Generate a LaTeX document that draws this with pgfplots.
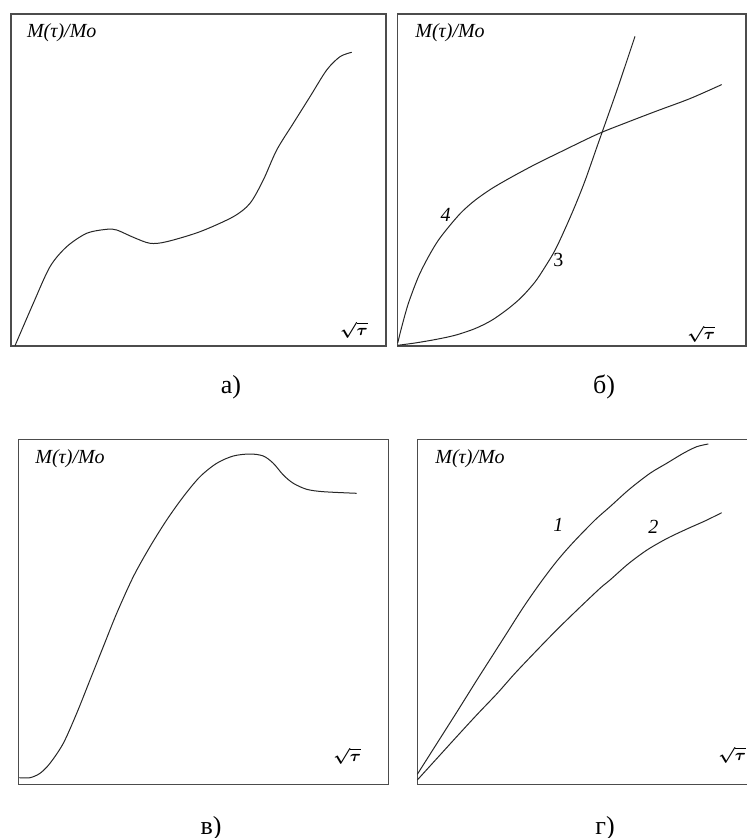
\documentclass[border=0pt]{standalone}
\usepackage{fontspec}
\setmainfont{Liberation Serif}
\usepackage{amsmath}
\usepackage{bm}
\usepackage{pgfplots}
\pgfplotsset{compat=1.18}

\pgfplotsset{
  panel/.style={
    scale only axis, clip=false,
    xmin=0, ymin=0, ticks=none,
    axis line style={black!70, line width=0.55pt},
  },
  curve/.style={smooth, line width=0.5pt, black!85, no marks},
}
\newcommand{\ylab}{\textit{M(τ)/Mo}}
\newcommand{\xlab}{$\bm{\sqrt{\tau}}$}

\begin{document}
\begin{tikzpicture}
  \useasboundingbox (0,0) rectangle (373.5pt,-419pt);

  % a)
  \begin{axis}[panel, at={(5.5pt,-173pt)}, anchor=south west,
      width=187.5pt, height=166pt, xmax=375, ymax=332]
    \addplot[curve] coordinates {
      (4,0.3)(22.3,42.7)(39,79.3)(55.7,99.3)(75.7,112.7)(95.7,116.7)
      (105.7,116)(122.3,108.7)(139,102.7)(155.7,104.3)(189,114.3)
      (222.3,129.3)(239,142.7)(252.3,166)(265.7,196)(282.3,222.7)
      (299,249.3)(315.7,276)(329,289.3)(340.7,293.7)
    };
    \node[anchor=west, font=\fontsize{10}{12}\selectfont] at (axis cs:9,313) {\ylab};
    \node[font=\footnotesize] at (axis cs:343,16) {\xlab};
  \end{axis}

  % б)
  \begin{axis}[panel, at={(198.65pt,-173pt)}, anchor=south west,
      width=174.35pt, height=166pt, xmax=348.7, ymax=332]
    \addplot[curve] coordinates {
      (0.4,3)(4.4,19)(11,42.4)(21,69)(31,89)(41,105.7)(52.7,120.7)
      (64.4,134)(77.7,145.7)(94.4,157.4)(114.4,169)(137.7,181.5)
      (160,192.5)(199.4,211.5)(229.4,223.5)(259.4,235)(292.7,247.4)
      (324.4,261.4)
    };
    \addplot[curve] coordinates {
      (0.4,0.7)(17.7,3)(37.7,6.4)(57.7,10.7)(77.7,17.4)(94.4,25.7)
      (111,37.4)(124.4,49)(137.7,64)(147.7,79)(157.7,95.7)(167.7,117)
      (177.7,140)(188,166)(201,203)(219.7,256)(237.7,309.7)
    };
    \node[anchor=west, font=\fontsize{10}{12}\selectfont] at (axis cs:11,313) {\ylab};
    \node[font=\normalsize\itshape] at (axis cs:48.4,130.7) {4};
    \node[font=\normalsize] at (axis cs:161,86.4) {3};
    \node[font=\footnotesize] at (axis cs:304,12) {\xlab};
  \end{axis}

  % в)
  \begin{axis}[panel, at={(9.15pt,-392.15pt)}, anchor=south west,
      width=185pt, height=172.5pt, xmax=370, ymax=345]
    \addplot[curve] coordinates {
      (1,6.6)(11.7,6.6)(21.7,11)(31.7,21)(45,41)(58.4,71)(71.7,104.3)
      (85,137.6)(98.4,171)(115,207.6)(131.7,237.6)(148.4,264.3)
      (165,287.6)(181.7,307.6)(198.4,321)(215,328.3)(231.7,330.3)
      (245,328.3)(255,321)(265,309.3)(275,301)(288.4,295)(305,292.6)
      (338.4,291)
    };
    \node[anchor=west, font=\fontsize{10}{12}\selectfont] at (axis cs:10,326) {\ylab};
    \node[font=\footnotesize] at (axis cs:329,28) {\xlab};
  \end{axis}

  % г)
  \begin{axis}[panel, at={(208.65pt,-392.15pt)}, anchor=south west,
      width=165.85pt, height=172.5pt, xmax=331.7, ymax=345]
    \addplot[curve] coordinates {
      (0,10)(20,41.5)(40,73)(59.4,104)(76,130)(89.4,151)(106,177)
      (122.7,201)(139.4,223)(156,242)(177.7,264.3)(192.7,277.6)
      (212,295)(232.7,311)(249.4,321)(266,331)(279.4,337.6)(291,340.3)
    };
    \addplot[curve] coordinates {
      (0,4.3)(20,26.3)(40,48.3)(60,70)(80,91)(97.7,111)(120,134.5)
      (140,155)(160,174.5)(182.7,196)(192.7,204.3)(211,220.5)
      (230,234.5)(250,246)(270,255.5)(288,263.5)(304.4,271.6)
    };
    \node[anchor=west, font=\fontsize{10}{12}\selectfont] at (axis cs:11,326) {\ylab};
    \node[font=\normalsize\itshape] at (axis cs:141,259.3) {1};
    \node[font=\normalsize\itshape] at (axis cs:236,257.6) {2};
    \node[font=\footnotesize] at (axis cs:315,29) {\xlab};
  \end{axis}

  % captions
  \node[font=\fontsize{13}{15}\selectfont] at (115.5pt,-193.5pt) {а)};
  \node[font=\fontsize{13}{15}\selectfont] at (302pt,-193.5pt) {б)};
  \node[font=\fontsize{13}{15}\selectfont] at (105.5pt,-414pt) {в)};
  \node[font=\fontsize{13}{15}\selectfont] at (302.5pt,-414pt) {г)};
\end{tikzpicture}
\end{document}
